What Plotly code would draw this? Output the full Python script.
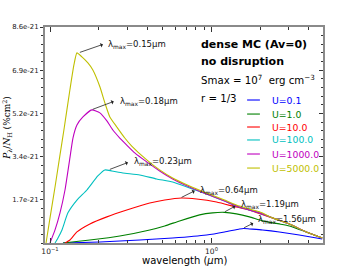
import numpy as np
import plotly.graph_objects as go

# ---------------- data (P in units of 1e-21 %cm^2) ----------------
U_values = [0.1, 1.0, 10.0, 100.0, 1000.0, 5000.0]
colors = ['#0000ff', '#008000', '#ff0000', '#00bfbf', '#bf00bf', '#bfbf00']

wl_u01 = [0.1203, 0.2036, 0.3594, 0.5744, 0.9314, 1.2030, 1.4894, 1.5768, 1.7169, 2.0654, 2.6283, 3.4925, 4.8442]
p_u01 = [0.0, 0.04, 0.12, 0.20, 0.32, 0.44, 0.56, 0.58, 0.56, 0.52, 0.44, 0.32, 0.16]

wl_u1 = [0.1203, 0.1766, 0.2704, 0.4144, 0.5129, 0.6343, 0.8434, 1.0143, 1.2030, 1.4265, 1.7169, 2.0654, 2.6283, 3.0299, 3.8574, 4.8442]
p_u1 = [0.0, 0.12, 0.28, 0.52, 0.68, 0.88, 1.12, 1.20, 1.22, 1.16, 1.04, 0.88, 0.76, 0.68, 0.44, 0.20]

wl_u10 = [0.1238, 0.1328, 0.1468, 0.1766, 0.2249, 0.2986, 0.4144, 0.5129, 0.6528, 0.8080, 1.0737, 1.4265, 1.7169, 2.3809, 3.0299, 3.8574, 4.8442]
p_u10 = [0.0, 0.12, 0.44, 0.76, 1.04, 1.31, 1.59, 1.71, 1.79, 1.75, 1.63, 1.43, 1.31, 1.00, 0.76, 0.44, 0.20]

wl_u100 = [0.1074, 0.1120, 0.1186, 0.1291, 0.1468, 0.1692, 0.1977, 0.2186, 0.2414, 0.2825, 0.3594, 0.4571,
           0.5744, 0.7316, 0.9314, 1.2030, 1.4894, 1.9786, 2.3809, 3.0299, 3.8574, 4.8442]
p_u100 = [0.0, 0.20, 0.52, 1.20, 1.71, 2.11, 2.67, 2.91, 2.87, 2.79, 2.71, 2.55,
          2.43, 2.19, 1.95, 1.67, 1.43, 1.20, 1.00, 0.76, 0.44, 0.20]

wl_u1000 = [0.1000, 0.1074, 0.1153, 0.1238, 0.1328, 0.1387, 0.1468, 0.1599, 0.1816, 0.2036, 0.2249, 0.2449,
            0.2704, 0.2986, 0.3347, 0.3970, 0.4775, 0.5744, 0.7316, 0.9314, 1.2030, 1.4894, 1.9786, 2.3809,
            3.0299, 3.8574, 4.8442]
p_u1000 = [0.0, 0.52, 1.20, 2.11, 3.39, 4.18, 4.70, 5.02, 5.30, 5.18, 4.86, 4.50,
           4.18, 3.90, 3.59, 3.23, 2.87, 2.55, 2.23, 1.95, 1.67, 1.43, 1.20, 1.00,
           0.76, 0.44, 0.20]

wl_u5000 = [0.0945, 0.1000, 0.1074, 0.1153, 0.1219, 0.1328, 0.1406, 0.1468, 0.1576, 0.1716, 0.1842, 0.2036,
            0.2186, 0.2346, 0.2592, 0.2904, 0.3206, 0.3970, 0.4775, 0.5744, 0.7316, 0.9314, 1.2030, 1.4894,
            1.9786, 2.3809, 3.0299, 3.8574, 4.8442]
p_u5000 = [0.0, 1.00, 2.23, 3.51, 4.50, 6.10, 7.09, 7.57, 7.41, 7.17, 6.89, 6.22,
           5.58, 5.02, 4.62, 4.18, 3.86, 3.31, 2.91, 2.59, 2.27, 1.99, 1.71, 1.47,
           1.24, 1.00, 0.76, 0.44, 0.20]

wavelengths = [wl_u01, wl_u1, wl_u10, wl_u100, wl_u1000, wl_u5000]
powers = [p_u01, p_u1, p_u10, p_u100, p_u1000, p_u5000]

lam_max = [0.15, 0.18, 0.23, 0.64, 1.19, 1.56]          # labelled peak wavelengths (um)
lam_order = [5, 4, 3, 2, 1, 0]                            # which curve each label belongs to

ytick_vals = [1.72, 3.44, 5.16, 6.88, 8.6]
ytick_text = ['1.7e-21', '3.4e-21', '5.2e-21', '6.9e-21', '8.6e-21']
xtick_vals = [0.1, 1.0]
xtick_text = ['10<sup>\u22121</sup>', '10<sup>0</sup>']
xminor_vals = [0.2, 0.3, 0.4, 0.5, 0.6, 0.7, 0.8, 0.9, 2, 3, 4]

SCALE = 1e-21
FONT = 'DejaVu Sans'
SPINE = '#8a8a8a'
TICK = '#333333'

fig = go.Figure()
for U, wl, p, c in zip(U_values, wavelengths, powers, colors):
    fig.add_trace(go.Scatter(x=wl, y=np.array(p) * SCALE, mode='lines',
                             line=dict(color=c, width=1.1, shape='spline', smoothing=0.5),
                             name='U=%.1f' % U, showlegend=False, hoverinfo='skip'))
# empty trace to carry the right-hand tick axis
fig.add_trace(go.Scatter(x=[], y=[], yaxis='y2', showlegend=False, hoverinfo='skip'))

# ---------------- lambda_max labels with arrows ----------------
head_off = [(26, -9), (24, -9), (21, -8), (16, -8), (13, -7), (12, -6)]
text_off = [(28, 8), (27, 8), (24, 8), (18, 8), (15, 7.5), (13, 8.5)]
annotations = []
for lm, idx, (hx, hy), (tx, ty) in zip(lam_max, lam_order, head_off, text_off):
    ypk = max(powers[idx]) * SCALE
    annotations.append(dict(x=np.log10(lm), y=ypk, xref='x', yref='y', text='',
                            showarrow=True, ax=hx, ay=hy, arrowside='start',
                            arrowhead=2, arrowsize=0.9, arrowwidth=0.8, arrowcolor='#222',
                            standoff=1.5))
    annotations.append(dict(x=np.log10(lm), y=ypk, xref='x', yref='y',
                            text='\u03bb<sub>max</sub>=%.2f\u03bcm' % lm, showarrow=False,
                            xanchor='left', yanchor='middle', xshift=tx, yshift=ty,
                            font=dict(family=FONT, size=8.5, color='#111')))

# ---------------- text block ----------------
annotations += [
    dict(x=0.554, y=0.917, xref='paper', yref='paper', text='<b>dense MC (Av=0)</b>', showarrow=False,
         xanchor='left', yanchor='middle', font=dict(family=FONT, size=11, color='black')),
    dict(x=0.554, y=0.838, xref='paper', yref='paper', text='<b>no disruption</b>', showarrow=False,
         xanchor='left', yanchor='middle', font=dict(family=FONT, size=11, color='black')),
    dict(x=0.554, y=0.755, xref='paper', yref='paper',
         text='Smax = 10<sup>7</sup>  erg cm<sup>\u22123</sup>', showarrow=False,
         xanchor='left', yanchor='middle', font=dict(family=FONT, size=10.2, color='black')),
    dict(x=0.554, y=0.667, xref='paper', yref='paper', text='r = 1/3', showarrow=False,
         xanchor='left', yanchor='middle', font=dict(family=FONT, size=10.2, color='black')),
    # axis titles
    dict(x=0.5, y=-0.083, xref='paper', yref='paper', text='wavelength (<i>\u03bc</i>m)', showarrow=False,
         xanchor='center', yanchor='middle', font=dict(family=FONT, size=10, color='black')),
    dict(x=-0.138, y=0.532, xref='paper', yref='paper', textangle=-90,
         text='<i>P</i><sub>\u03bb</sub>/<i>N</i><sub>H</sub> (%cm<sup>2</sup>)', showarrow=False,
         xanchor='center', yanchor='middle', font=dict(family='DejaVu Serif', size=9, color='black')),
]

# ---------------- manual legend ----------------
shapes = []
leg_y = [0.662, 0.597, 0.537, 0.477, 0.412, 0.347]
for U, c, yy in zip(U_values, colors, leg_y):
    shapes.append(dict(type='line', xref='paper', yref='paper', x0=0.727, x1=0.773, y0=yy, y1=yy,
                       line=dict(color=c, width=1.1)))
    annotations.append(dict(x=0.809, y=yy, xref='paper', yref='paper', text='U=%.1f' % U, showarrow=False,
                            xanchor='left', yanchor='middle', font=dict(family=FONT, size=9.3, color=c)))

fig.update_layout(
    width=360, height=270,
    margin=dict(l=45, r=37, t=27, b=27, autoexpand=False),
    paper_bgcolor='white', plot_bgcolor='white',
    font=dict(family=FONT, size=7, color='#222'),
    showlegend=False,
    annotations=annotations,
    shapes=shapes,
    xaxis=dict(type='log', range=[-1.031, 0.69], tickvals=xtick_vals, ticktext=xtick_text,
               automargin=False,
               ticks='inside', ticklen=5, tickwidth=1, tickcolor=TICK, mirror='ticks',
               showline=True, linecolor=SPINE, linewidth=2, showgrid=False, zeroline=False,
               tickfont=dict(family=FONT, size=7.5, color='#222'),
               minor=dict(tickvals=xminor_vals, ticks='inside', ticklen=3, tickcolor=TICK, tickwidth=1,
                          showgrid=False)),
    yaxis=dict(range=[0, 8.6 * SCALE], tickvals=[v * SCALE for v in ytick_vals], ticktext=ytick_text,
               automargin=False,
               ticks='outside', ticklen=3, tickwidth=1, tickcolor=TICK, mirror=True,
               showline=True, linecolor=SPINE, linewidth=2, showgrid=False, zeroline=False,
               tickfont=dict(family=FONT, size=6.9, color='#222'),
               minor=dict(dtick=0.344 * SCALE, tick0=0, ticks='outside', ticklen=2, tickcolor=TICK,
                          tickwidth=1, showgrid=False)),
    yaxis2=dict(overlaying='y', side='right', anchor='x', range=[0, 8.6 * SCALE],
                automargin=False,
                tickvals=[v * SCALE for v in ytick_vals], showticklabels=False,
                ticks='inside', ticklen=4, tickwidth=1, tickcolor=TICK,
                showline=False, showgrid=False, zeroline=False,
                minor=dict(dtick=0.344 * SCALE, tick0=0, ticks='inside', ticklen=2.5, tickcolor=TICK,
                           tickwidth=1, showgrid=False)),
)

fig.write_html('out.html', config={'displayModeBar': False, 'staticPlot': True},
               post_script="document.body.style.margin='0';document.body.style.padding='0';"
                           "document.documentElement.style.overflow='hidden';")
